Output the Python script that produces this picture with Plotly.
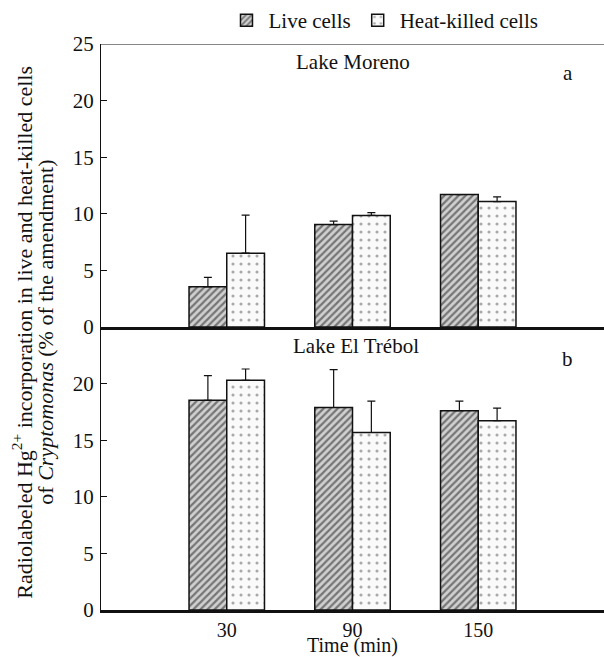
import plotly.graph_objects as go

times = ["30", "90", "150"]
series_names = ["Live cells", "Heat-killed cells"]

# Panel a: Lake Moreno
moreno_live = [3.55, 9.05, 11.7]
moreno_live_err = [0.84, 0.31, 0.0]
moreno_heat = [6.52, 9.86, 11.08]
moreno_heat_err = [3.37, 0.24, 0.42]

# Panel b: Lake El Trébol
trebol_live = [18.52, 17.89, 17.6]
trebol_live_err = [2.18, 3.35, 0.86]
trebol_heat = [20.29, 15.68, 16.72]
trebol_heat_err = [1.0, 2.78, 1.11]

yticks_a = [0, 5, 10, 15, 20, 25]
yticks_b = [0, 5, 10, 15, 20]

FONT = "Liberation Serif"
FS = 21
live_marker = dict(color="#c8c8c8", line=dict(color="#111", width=1.5),
                   pattern=dict(shape="/", fgcolor="#1a1a1a", bgcolor="#d0d0d0",
                                size=5, solidity=0.45))
heat_marker = dict(color="#fafafa", line=dict(color="#111", width=1.5),
                   pattern=dict(shape=".", fgcolor="#555", bgcolor="#fafafa",
                                size=8, solidity=0.12))

def err(vals):
    return dict(type="data", array=vals, arrayminus=[0] * len(vals),
                symmetric=False, color="#111", thickness=1.2, width=4)

fig = go.Figure()
fig.add_bar(x=times, y=moreno_live, name=series_names[0], marker=live_marker,
            error_y=err(moreno_live_err), xaxis="x2", yaxis="y2",
            offsetgroup="live", legendgroup="live")
fig.add_bar(x=times, y=moreno_heat, name=series_names[1], marker=heat_marker,
            error_y=err(moreno_heat_err), xaxis="x2", yaxis="y2",
            offsetgroup="heat", legendgroup="heat")
fig.add_bar(x=times, y=trebol_live, name=series_names[0], marker=live_marker,
            error_y=err(trebol_live_err), xaxis="x", yaxis="y",
            offsetgroup="live", legendgroup="live", showlegend=False)
fig.add_bar(x=times, y=trebol_heat, name=series_names[1], marker=heat_marker,
            error_y=err(trebol_heat_err), xaxis="x", yaxis="y",
            offsetgroup="heat", legendgroup="heat", showlegend=False)

tf = dict(family=FONT, size=FS, color="#111")
xf = dict(family=FONT, size=20, color="#111")
xcommon = dict(type="category", categoryorder="array", categoryarray=times,
               range=[-1, 3], showgrid=False, zeroline=False,
               showline=True, linecolor="#111", linewidth=2.5, ticks="")
ycommon = dict(range=[0, 25], showgrid=False, zeroline=False, showline=True,
               linecolor="#111", linewidth=1, ticks="inside", ticklen=6,
               tickcolor="#111", tickfont=tf, ticklabelstandoff=2)

H_PLOT = 657 - 42 - 47
fig.update_layout(
    width=604, height=657,
    margin=dict(l=101, r=0, t=42, b=47),
    paper_bgcolor="white", plot_bgcolor="white",
    barmode="group", bargap=0.4, bargroupgap=0,
    font=tf,
    xaxis=dict(xcommon, domain=[0, 1], anchor="y", tickfont=xf,
               ticklabelstandoff=0),
    yaxis=dict(ycommon, domain=[0, 0.5], anchor="x", tickvals=yticks_b),
    xaxis2=dict(xcommon, domain=[0, 1], anchor="y2", showticklabels=False),
    yaxis2=dict(ycommon, domain=[0.5, 1], anchor="x2", tickvals=yticks_a),
    legend=dict(orientation="h", x=0.5626, y=1 + 24 / H_PLOT, xanchor="center",
                yanchor="middle", font=tf, itemwidth=34,
                bgcolor="rgba(0,0,0,0)"),
    shapes=[dict(type="line", xref="x2", yref="y2", x0=-1, x1=3, y0=25, y1=25,
                 line=dict(color="#111", width=1))],
    annotations=[
        dict(text="Lake Moreno", x=1, y=23.4, xref="x2", yref="y2",
             showarrow=False, font=tf),
        dict(text="a", x=2.71, y=22.4, xref="x2", yref="y2",
             showarrow=False, font=tf),
        dict(text="Lake El Trébol", x=1.03, y=23.3, xref="x", yref="y",
             showarrow=False, font=tf),
        dict(text="b", x=2.71, y=22.2, xref="x", yref="y",
             showarrow=False, font=tf),
        dict(text="Time (min)", x=0.5, y=-(646 - 610) / H_PLOT, xref="paper",
             yref="paper", xanchor="center", yanchor="middle", showarrow=False,
             font=xf),
        dict(text="Radiolabeled Hg<sup>2+</sup> incorporation in live and heat-killed cells",
             x=-(101 - 22) / 503, y=0.49, xref="paper", yref="paper", textangle=-90,
             xanchor="center", yanchor="middle", showarrow=False,
             font=dict(family=FONT, size=22, color="#111")),
        dict(text="of <i>Cryptomonas</i> (% of the amendment)",
             x=-(101 - 46) / 503, y=0.49, xref="paper", yref="paper", textangle=-90,
             xanchor="center", yanchor="middle", showarrow=False,
             font=dict(family=FONT, size=22, color="#111")),
    ],
)

fig.write_html("out.html")
